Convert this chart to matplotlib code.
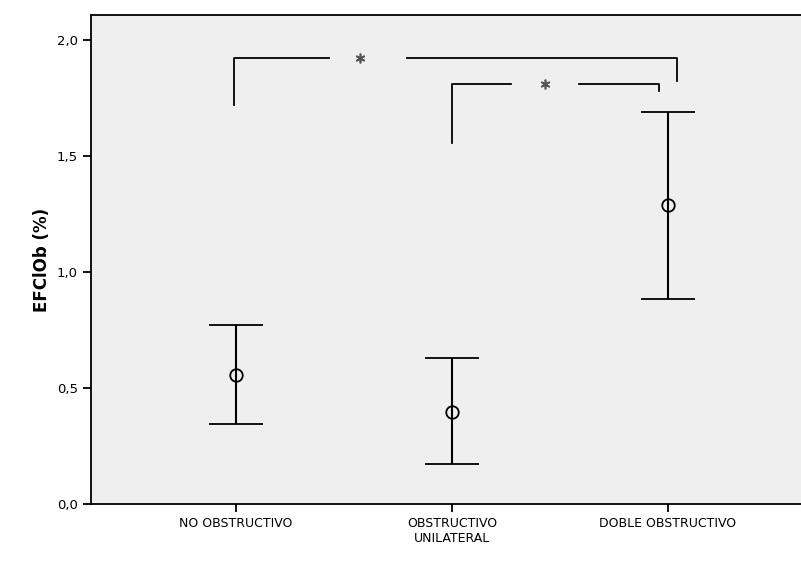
import numpy as np
import matplotlib.pyplot as plt

grupos = ['NO OBSTRUCTIVO', 'OBSTRUCTIVO\nUNILATERAL', 'DOBLE OBSTRUCTIVO']
media = [0.556, 0.397, 1.289]
ic_inf = [0.345, 0.172, 0.884]
ic_sup = [0.772, 0.629, 1.690]

# significance brackets: x left, x right, y top, y left end, y right end,
# gap start, gap end, star x
brackets = [
    (-0.01, 2.04, 1.922, 1.72, 1.823, 0.43, 0.79, 0.573),
    (1.0, 1.96, 1.81, 1.556, 1.78, 1.274, 1.59, 1.43),
]

fig = plt.figure(figsize=(8.01, 5.61), dpi=100)
ax = fig.add_axes([91 / 801, 57 / 561, 712 / 801, 489 / 561])
ax.set_facecolor('#efefef')

x = np.arange(len(grupos))
yerr = [np.array(media) - np.array(ic_inf), np.array(ic_sup) - np.array(media)]
ax.errorbar(x, media, yerr=yerr, fmt='o', mfc='none', mec='black', ms=9,
            mew=1.3, ecolor='black', elinewidth=1.5, capsize=19.5,
            capthick=2.2, color='black')

for xl, xr, yt, yl, yr, g0, g1, xs in brackets:
    ax.plot([xl, xl, g0], [yl, yt, yt], color='black', lw=1.3)
    ax.plot([g1, xr, xr], [yt, yt, yr], color='black', lw=1.3)
    ax.plot([xs], [yt], marker=(6, 2, 0), ms=7, mew=1.2, color='#555555')

ax.set_xlim(-0.671, 2.625)
ax.set_ylim(0, 2.108)
ax.set_xticks(x)
ax.set_xticklabels(grupos, fontsize=9)
ax.set_yticks([0, 0.5, 1.0, 1.5, 2.0])
ax.set_yticklabels(['0,0', '0,5', '1,0', '1,5', '2,0'], fontsize=9.5)
ax.tick_params(direction='out', length=6, width=1.3)
ax.set_ylabel('EFClOb (%)', fontsize=12, fontweight='bold')
for s in ['left', 'bottom', 'top']:
    ax.spines[s].set_linewidth(1.3)
ax.spines['right'].set_visible(False)

fig.savefig('out.png', dpi=100)
